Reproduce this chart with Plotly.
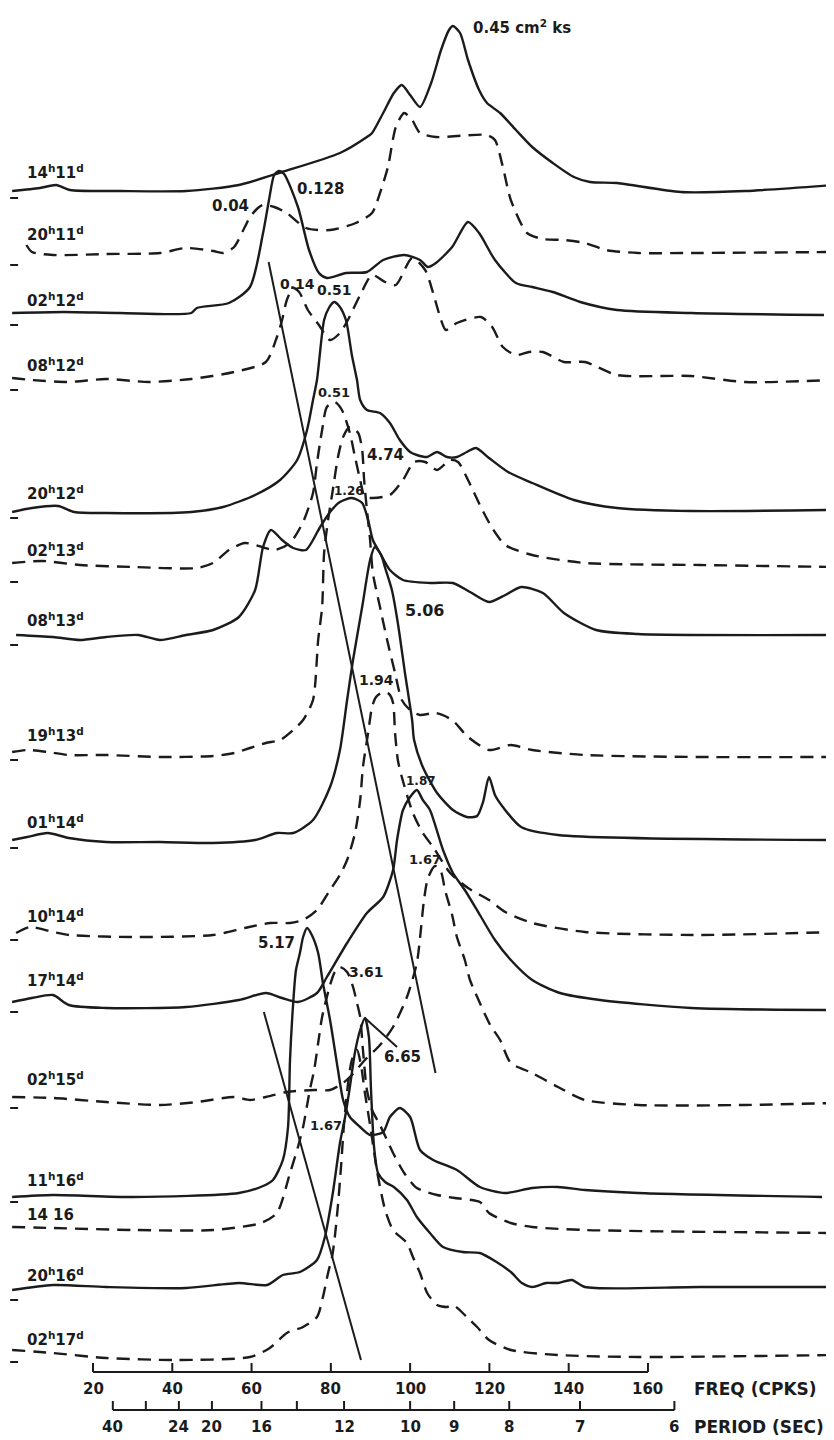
import plotly.graph_objects as go

# ---- time labels of the spectra (top to bottom) ----
times = ["14<sup>h</sup>11<sup>d</sup>", "20<sup>h</sup>11<sup>d</sup>", "02<sup>h</sup>12<sup>d</sup>",
         "08<sup>h</sup>12<sup>d</sup>", "20<sup>h</sup>12<sup>d</sup>", "02<sup>h</sup>13<sup>d</sup>",
         "08<sup>h</sup>13<sup>d</sup>", "19<sup>h</sup>13<sup>d</sup>", "01<sup>h</sup>14<sup>d</sup>",
         "10<sup>h</sup>14<sup>d</sup>", "17<sup>h</sup>14<sup>d</sup>", "02<sup>h</sup>15<sup>d</sup>",
         "11<sup>h</sup>16<sup>d</sup>", "14 16", "20<sup>h</sup>16<sup>d</sup>", "02<sup>h</sup>17<sup>d</sup>"]
dashed = [False, True, False, True, False, True, False, True,
          False, True, False, True, False, True, False, True]
# stacking offset of each spectrum (downward) and its zero-level mark
offsets = [191, 253, 313, 380, 511, 566, 635, 757, 840, 935, 1005, 1098, 1195, 1230, 1287, 1355]
zero_marks = [198, 265, 325, 390, 518, 582, 645, 760, 848, 940, 1012, 1108, 1202, None, 1300, 1362]
label_lvl = [172, 234, 300, 365, 493, 550, 620, 735, 822, 916, 980, 1079, 1180, 1215, 1275, 1339]

# ---- spectra: frequency (cpks) and relative level ----
f1 = [-0.4, 6.6, 10.7, 14.2, 26.8, 43.5, 56.8, 67.7, 82.3, 89.1, 90.4, 93.2, 95.9, 97.9, 100.0, 102.5, 105.3, 107.8, 109.8, 110.8, 112.6, 114.6, 117.4, 119.4, 122.7, 126.7, 130.8, 136.0, 141.3, 145.4, 152.2, 168.3, 184.5, 206.9]
a1 = [0, 3, 6, 1, 0, 0, 6, 19, 38, 54, 58, 78, 98, 106, 96, 84, 108, 141, 161, 165, 158, 131, 101, 88, 78, 61, 44, 28, 14, 9, 8, -1, 0, 6]

f2 = [3.2, 4.6, 9.9, 23.3, 36.9, 43.5, 50.3, 52.8, 55.6, 58.3, 59.6, 61.6, 62.9, 65.7, 68.9, 73.7, 79.8, 86.3, 90.4, 92.4, 94.4, 96.4, 98.5, 100.5, 102.5, 106.5, 119.4, 121.4, 123.4, 125.4, 129.5, 133.5, 138.8, 144.1, 149.4, 157.5, 170.9, 206.9]
a2 = [8, 1, -2, -1, 0, 5, 2, 0, 6, 26, 36, 45, 48, 46, 40, 25, 23, 30, 40, 60, 86, 126, 140, 133, 120, 116, 118, 113, 86, 53, 20, 14, 13, 10, 3, 0, 0, 1]

f3 = [-0.4, 12.7, 26.8, 44.8, 46.2, 54.3, 59.6, 62.9, 64.4, 65.7, 66.9, 68.2, 71.7, 74.5, 77.0, 79.0, 83.8, 89.1, 93.2, 98.5, 102.5, 104.5, 106.5, 110.6, 114.6, 117.4, 121.4, 126.7, 130.8, 136.0, 142.9, 152.2, 170.9, 204.4]
a3 = [0, 1, 0, 0, 5, 10, 26, 80, 113, 138, 142, 139, 106, 63, 40, 35, 40, 41, 53, 58, 53, 46, 50, 66, 91, 80, 53, 30, 26, 21, 11, 3, 0, -2]

f4 = [-0.4, 4.6, 13.9, 23.3, 34.1, 44.8, 55.6, 63.6, 66.4, 67.7, 68.9, 70.5, 72.0, 74.2, 77.0, 79.8, 82.3, 84.3, 87.4, 90.4, 93.7, 96.4, 100.5, 103.8, 105.8, 107.8, 109.0, 111.8, 117.9, 120.7, 123.4, 126.7, 130.0, 133.5, 138.8, 144.1, 152.2, 170.9, 184.5, 206.9]
a4 = [2, 0, -2, 1, -2, 1, 8, 18, 43, 60, 80, 92, 88, 70, 55, 40, 47, 60, 85, 105, 98, 95, 122, 110, 87, 60, 50, 57, 63, 53, 33, 25, 28, 28, 18, 18, 5, 4, -2, 0]

f5 = [-0.4, 4.6, 11.2, 15.3, 23.3, 44.8, 52.8, 60.9, 67.2, 71.5, 74.0, 75.5, 76.5, 78.3, 79.5, 80.8, 82.1, 83.8, 85.3, 86.6, 87.4, 89.1, 92.4, 94.9, 97.4, 100.0, 101.7, 104.3, 106.8, 109.3, 111.8, 114.3, 116.6, 119.9, 124.7, 130.8, 141.3, 152.2, 170.9, 205.2]
a5 = [-1, 3, 5, -1, -2, -1, 4, 16, 31, 51, 81, 111, 131, 191, 203, 209, 205, 191, 156, 131, 111, 101, 98, 88, 71, 59, 56, 54, 59, 54, 54, 59, 63, 53, 39, 28, 11, 3, 0, 1]

f6 = [-0.4, 7.3, 16.7, 30.1, 46.2, 50.3, 54.3, 58.3, 62.6, 65.9, 69.7, 73.0, 75.5, 76.5, 77.8, 79.0, 81.0, 82.8, 84.8, 86.1, 87.4, 88.6, 90.6, 94.9, 98.2, 101.0, 103.8, 106.8, 110.1, 112.1, 114.6, 117.6, 120.7, 124.0, 130.8, 144.1, 173.1, 206.9]
a6 = [3, 5, 1, -1, -2, 3, 16, 23, 19, 16, 23, 44, 73, 103, 136, 159, 164, 156, 133, 109, 86, 69, 68, 71, 86, 104, 104, 96, 106, 104, 86, 61, 38, 21, 11, 3, 1, -1]

f7 = [0.6, 9.9, 16.7, 23.3, 31.4, 36.9, 43.5, 50.3, 56.8, 60.9, 62.9, 64.9, 67.7, 70.5, 73.7, 77.3, 79.8, 82.3, 85.3, 87.9, 89.4, 90.6, 92.4, 94.9, 98.2, 105.0, 110.8, 115.1, 119.9, 124.0, 128.0, 133.5, 138.8, 146.9, 157.5, 206.9]
a7 = [0, -2, -5, -2, 0, -5, 0, 5, 18, 45, 88, 105, 95, 87, 85, 108, 123, 133, 137, 132, 115, 95, 82, 65, 55, 52, 52, 43, 33, 40, 48, 42, 22, 5, 1, 0]

f8 = [-0.4, 3.4, 8.6, 13.9, 23.3, 36.9, 50.3, 55.6, 59.6, 63.6, 67.2, 70.5, 73.0, 75.5, 76.8, 77.8, 78.3, 79.3, 80.5, 81.8, 83.1, 84.8, 86.9, 87.9, 88.4, 89.1, 89.9, 90.6, 92.4, 94.2, 96.2, 97.9, 100.0, 102.5, 106.5, 110.6, 114.6, 119.9, 125.4, 130.8, 144.1, 173.1, 206.9]
a8 = [5, 7, 5, 2, 2, 0, 1, 4, 9, 14, 17, 27, 37, 57, 117, 150, 204, 237, 267, 300, 320, 330, 324, 307, 277, 247, 217, 184, 150, 117, 84, 57, 47, 42, 44, 37, 20, 7, 12, 7, 2, 0, 0]

f9 = [-0.4, 3.4, 8.6, 13.9, 23.3, 36.9, 50.3, 60.9, 66.4, 70.5, 75.5, 79.8, 82.3, 84.1, 85.6, 87.9, 89.9, 91.1, 92.7, 93.7, 95.4, 96.9, 98.7, 100.5, 101.0, 103.2, 106.8, 110.8, 114.3, 116.9, 118.4, 119.9, 121.4, 123.4, 128.0, 137.3, 206.9]
a9 = [0, 3, 7, 2, -2, -2, -3, 0, 7, 7, 20, 53, 90, 140, 180, 233, 280, 293, 285, 272, 250, 217, 167, 120, 100, 73, 47, 30, 23, 24, 38, 63, 45, 33, 13, 5, 0]

f10 = [0.6, 4.1, 9.9, 13.9, 30.1, 50.3, 58.3, 64.7, 69.7, 73.0, 76.5, 79.8, 82.3, 84.1, 86.1, 87.4, 88.1, 89.4, 90.4, 91.4, 93.2, 94.7, 95.7, 96.2, 96.9, 97.9, 100.7, 103.2, 105.8, 110.1, 114.6, 119.9, 124.0, 130.8, 144.1, 173.1, 206.9]
a10 = [2, 8, 3, 0, -2, 0, 7, 12, 12, 15, 25, 45, 60, 75, 102, 135, 168, 202, 228, 238, 243, 241, 232, 202, 175, 158, 122, 102, 88, 62, 47, 35, 23, 12, 3, 0, 3]

f11 = [-0.4, 4.6, 9.9, 13.9, 23.3, 43.5, 56.8, 63.6, 67.7, 71.7, 76.5, 79.0, 84.1, 89.1, 93.2, 95.7, 96.7, 98.2, 100.0, 101.7, 103.2, 105.0, 108.3, 110.8, 113.8, 117.6, 121.4, 125.4, 130.8, 137.8, 147.9, 170.9, 206.9]
a11 = [3, 7, 10, 0, -3, -2, 5, 12, 7, 3, 12, 28, 62, 92, 108, 135, 165, 195, 208, 215, 205, 195, 155, 132, 115, 90, 65, 45, 25, 12, 5, -3, -5]

f12 = [-0.4, 9.9, 23.3, 36.9, 46.2, 55.6, 59.6, 63.6, 68.9, 75.8, 79.8, 83.1, 85.3, 88.6, 92.4, 95.7, 99.2, 101.7, 102.7, 103.5, 104.5, 106.3, 107.8, 108.8, 110.6, 111.8, 113.8, 115.1, 117.6, 120.2, 122.7, 125.4, 130.8, 137.3, 144.1, 157.5, 184.5, 206.9]
a12 = [1, 0, -4, -7, -4, 1, -2, 1, 6, 8, 8, 15, 23, 38, 53, 71, 101, 135, 168, 198, 220, 232, 226, 208, 183, 161, 138, 118, 95, 73, 58, 35, 25, 11, -2, -7, -7, -5]

f13 = [-0.4, 9.9, 30.1, 56.8, 62.9, 65.4, 67.9, 69.2, 69.7, 70.5, 71.2, 72.2, 73.0, 74.0, 75.2, 76.8, 78.0, 79.8, 81.8, 83.1, 84.8, 87.4, 89.9, 93.2, 94.9, 97.4, 100.0, 102.5, 105.8, 111.8, 117.6, 123.9, 130.8, 137.3, 144.1, 157.5, 203.9]
a13 = [-2, 0, -2, 2, 9, 15, 35, 68, 135, 192, 225, 242, 258, 267, 260, 242, 212, 175, 125, 95, 78, 68, 60, 63, 78, 87, 78, 45, 35, 25, 8, 2, 7, 8, 5, 2, -2]

f14 = [-0.4, 9.9, 30.1, 50.3, 62.4, 66.4, 69.7, 71.7, 73.0, 74.7, 75.8, 76.8, 77.8, 79.8, 81.0, 82.3, 84.1, 85.6, 86.6, 87.4, 88.1, 89.1, 90.4, 92.4, 95.7, 98.5, 101.7, 106.8, 111.3, 117.6, 119.9, 125.4, 130.8, 144.1, 206.9]
a14 = [3, 2, 0, 0, 7, 17, 57, 83, 103, 140, 160, 187, 213, 245, 258, 263, 258, 243, 227, 213, 180, 140, 120, 105, 77, 57, 42, 35, 32, 28, 17, 7, 3, 0, -3]

f15 = [-0.4, 9.9, 23.3, 43.5, 56.8, 63.9, 67.9, 72.2, 76.5, 78.5, 80.5, 82.3, 83.6, 84.8, 86.1, 87.4, 88.6, 89.6, 90.1, 90.4, 90.9, 91.9, 93.7, 95.9, 99.2, 101.7, 105.0, 108.3, 113.3, 117.6, 121.4, 125.4, 128.2, 130.8, 134.3, 137.3, 140.8, 144.1, 173.1, 206.9]
a15 = [-3, 2, 0, -1, 4, 2, 12, 15, 27, 50, 94, 144, 170, 200, 235, 257, 269, 250, 200, 174, 140, 114, 105, 100, 87, 70, 54, 40, 35, 34, 26, 15, 4, 0, 4, 4, 7, 0, 0, 0]

f16 = [-0.4, 9.9, 23.3, 40.9, 59.6, 64.6, 68.9, 73.0, 76.5, 78.0, 79.3, 80.3, 81.0, 81.8, 82.6, 83.3, 84.3, 85.3, 86.6, 87.6, 88.6, 90.1, 91.6, 93.7, 95.7, 99.2, 100.7, 102.5, 104.3, 106.8, 109.3, 110.8, 114.3, 116.9, 119.9, 125.4, 137.3, 157.5, 206.9]
a16 = [5, 2, -3, -5, -2, 7, 22, 28, 38, 58, 82, 98, 118, 150, 190, 230, 270, 295, 305, 290, 262, 225, 185, 145, 125, 112, 98, 82, 62, 50, 48, 50, 38, 28, 15, 5, 0, -2, 0]

freqs = [f1, f2, f3, f4, f5, f6, f7, f8, f9, f10, f11, f12, f13, f14, f15, f16]
levels = [a1, a2, a3, a4, a5, a6, a7, a8, a9, a10, a11, a12, a13, a14, a15, a16]

# ---- peak values (cm^2 ks) and where they are written ----
peak_text = ["0.45 cm<sup>2</sup> ks", "0.04", "0.128", "0.14", "0.51", "0.51", "4.74", "1.26",
             "5.06", "1.94", "1.87", "1.67", "5.17", "3.61", "6.65", "1.67"]
peak_text_f = [115.4, 54.6, 77.5, 71.5, 81.0, 80.8, 93.7, 84.6, 103.5, 91.4, 102.8, 103.8, 66.2, 89.1, 98.0, 78.8]
peak_text_lvl = [27, 206, 189, 284, 290, 392, 455, 491, 610, 680, 781, 859, 943, 972, 1057, 1125]
peak_text_size = [15, 15, 15, 14, 14, 13, 15, 12, 16, 14, 12, 13, 15, 14, 15, 13]

# ---- straight ridge lines joining the peaks ----
ridge1_f = [64.3, 106.4]
ridge1_lvl = [262, 1073]
ridge2_f = [63.1, 87.6]
ridge2_lvl = [1012, 1360]
pointer_f = [88.6, 96.7]
pointer_lvl = [1018, 1047]

# ---- scales ----
freq_ticks = [20, 40, 60, 80, 100, 120, 140, 160]
period_ticks = [40, 30, 24, 20, 16, 14, 12, 10, 9, 8, 7, 6]
period_labels = [40, 24, 20, 16, 12, 10, 9, 8, 7, 6]
freq_axis_lvl = 1372
period_axis_lvl = 1410

INK = "#1b1b1b"
FONT = "DejaVu Sans"

fig = go.Figure()

for fx, lv, off, dsh in zip(freqs, levels, offsets, dashed):
    fig.add_trace(go.Scatter(
        x=fx, y=[off - v for v in lv], mode="lines",
        line=dict(color=INK, width=2.4, shape="spline", smoothing=0.7,
                  dash="13px,8px" if dsh else "solid"),
        hoverinfo="skip", showlegend=False))

for rf, rl in [(ridge1_f, ridge1_lvl), (ridge2_f, ridge2_lvl), (pointer_f, pointer_lvl)]:
    fig.add_trace(go.Scatter(x=rf, y=rl, mode="lines", line=dict(color=INK, width=2),
                             hoverinfo="skip", showlegend=False))

# zero-level marks
for z in zero_marks:
    if z is None:
        continue
    fig.add_shape(type="line", x0=-0.9, x1=1.1, y0=z, y1=z, xref="x", yref="y",
                  line=dict(color=INK, width=2))

annotations = []
for t, yl in zip(times, label_lvl):
    annotations.append(dict(x=2.85, y=yl, xref="x", yref="y", text="<b>" + t + "</b>", showarrow=False,
                            xanchor="left", yanchor="middle",
                            font=dict(family=FONT, size=15, color=INK)))

for t, fx, yl, sz in zip(peak_text, peak_text_f, peak_text_lvl, peak_text_size):
    annotations.append(dict(x=fx, y=yl, xref="x", yref="y", text="<b>" + t + "</b>", showarrow=False,
                            xanchor="left" if "cm" in t else "center", yanchor="middle",
                            font=dict(family=FONT, size=sz, color=INK)))

# frequency scale
fig.add_shape(type="line", x0=freq_ticks[0], x1=freq_ticks[-1], y0=freq_axis_lvl, y1=freq_axis_lvl,
              xref="x", yref="y", line=dict(color=INK, width=2))
for ft in freq_ticks:
    fig.add_shape(type="line", x0=ft, x1=ft, y0=freq_axis_lvl, y1=freq_axis_lvl - 9,
                  xref="x", yref="y", line=dict(color=INK, width=2))
    annotations.append(dict(x=ft, y=freq_axis_lvl + 17, xref="x", yref="y", text="<b>%d</b>" % ft,
                            showarrow=False, xanchor="center", yanchor="middle",
                            font=dict(family=FONT, size=15, color=INK)))
annotations.append(dict(x=171.1, y=freq_axis_lvl + 17, xref="x", yref="y", text="<b>FREQ (CPKS)</b>",
                        showarrow=False, xanchor="left", yanchor="middle",
                        font=dict(family=FONT, size=17, color=INK)))

# period scale
pf = [1000.0 / p for p in period_ticks]
fig.add_shape(type="line", x0=min(pf), x1=max(pf), y0=period_axis_lvl, y1=period_axis_lvl,
              xref="x", yref="y", line=dict(color=INK, width=2))
for p in period_ticks:
    fig.add_shape(type="line", x0=1000.0 / p, x1=1000.0 / p, y0=period_axis_lvl,
                  y1=period_axis_lvl - 9, xref="x", yref="y", line=dict(color=INK, width=2))
for p in period_labels:
    annotations.append(dict(x=1000.0 / p, y=period_axis_lvl + 17, xref="x", yref="y", text="<b>%d</b>" % p,
                            showarrow=False, xanchor="center", yanchor="middle",
                            font=dict(family=FONT, size=15, color=INK)))
annotations.append(dict(x=171.1, y=period_axis_lvl + 17, xref="x", yref="y", text="<b>PERIOD (SEC)</b>",
                        showarrow=False, xanchor="left", yanchor="middle",
                        font=dict(family=FONT, size=17, color=INK)))

# the page body adds an 8 px margin, so the figure is sized to fill the rest of the window
fig.update_layout(
    width=826, height=1432, margin=dict(l=0, r=0, t=0, b=0),
    paper_bgcolor="white", plot_bgcolor="white",
    xaxis=dict(range=[-1.443, 206.93], visible=False, fixedrange=True),
    yaxis=dict(range=[1440, 8], visible=False, fixedrange=True),
    annotations=annotations, showlegend=False)

fig.write_html("out.html")
